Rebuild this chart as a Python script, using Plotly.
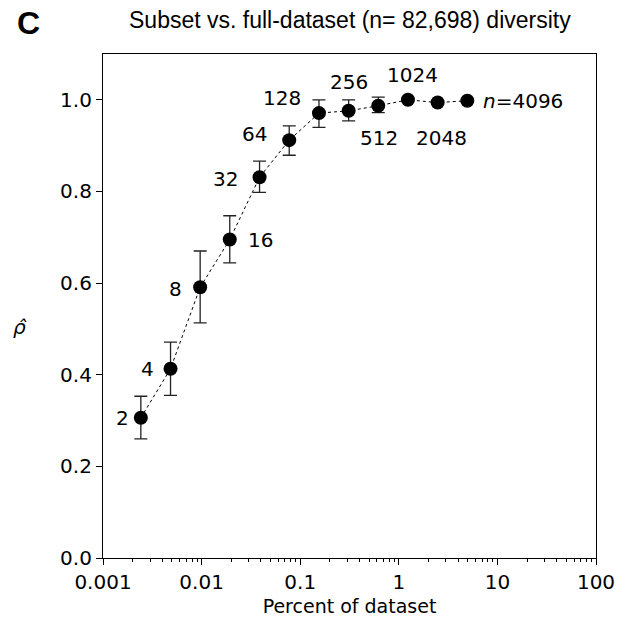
import math
import plotly.graph_objects as go

# Data
n_labels = ["2", "4", "8", "16", "32", "64", "128", "256", "512", "1024", "2048", "<i>n</i>=4096"]
percent = [0.00242, 0.00484, 0.00967, 0.0193, 0.0387, 0.0774, 0.155, 0.310, 0.619, 1.238, 2.476, 4.953]
rho = [0.306, 0.413, 0.591, 0.695, 0.831, 0.912, 0.971, 0.976, 0.987, 1.000, 0.994, 0.998]
err_up = [0.047, 0.058, 0.079, 0.052, 0.035, 0.031, 0.029, 0.024, 0.019, 0.003, 0.003, 0.003]
err_dn = [0.046, 0.058, 0.078, 0.051, 0.033, 0.033, 0.031, 0.022, 0.015, 0.003, 0.003, 0.003]
x_tickvals = [0.001, 0.01, 0.1, 1, 10, 100]
x_ticktext = ["0.001", "0.01", "0.1", "1", "10", "100"]
y_tickvals = [0.0, 0.2, 0.4, 0.6, 0.8, 1.0]

# Label placement (pixel offsets, anchors)
label_pos = [
    ("right", -10, 0), ("right", -15, 0), ("right", -16, -2), ("left", 16, 0),
    ("right", -20, -2), ("right", -20, 6), ("right", -16, 15), ("center", 0, 29),
    ("center", 1, -32), ("center", 5, 25), ("center", 4, -35), ("left", 14, 0),
]

FONT = "DejaVu Sans"

fig = go.Figure()
fig.add_trace(go.Scatter(
    x=percent, y=rho, mode="lines+markers",
    line=dict(color="black", width=1, dash="dot"),
    marker=dict(size=14, color="black"),
    error_y=dict(type="data", symmetric=False, array=err_up, arrayminus=err_dn,
                 color="#222222", thickness=1.3, width=6.5),
    showlegend=False, hoverinfo="skip",
))

minor_vals = []
for d in x_tickvals[:-1]:
    for k in range(2, 10):
        minor_vals.append(d * k)

for xv, yv, lab, (anc, dx, dy) in zip(percent, rho, n_labels, label_pos):
    fig.add_annotation(x=math.log10(xv), y=yv, xref="x", yref="y", text=lab, showarrow=False,
                       xanchor=anc, yanchor="middle", xshift=dx, yshift=dy,
                       font=dict(family=FONT, size=20, color="black"))

fig.add_annotation(x=0.5, y=1, xref="paper", yref="paper", yshift=34,
                   text="Subset vs. full-dataset (n= 82,698) diversity", showarrow=False,
                   xanchor="center", yanchor="middle",
                   font=dict(family="Liberation Sans", size=23, color="black"))
fig.add_annotation(x=0, y=1, xref="paper", yref="paper", xshift=-75, yshift=31,
                   text="<b>C</b>", showarrow=False, xanchor="center", yanchor="middle",
                   font=dict(family="Liberation Sans", size=32, color="black"))
fig.add_annotation(x=0, y=0.5, xref="paper", yref="paper", xshift=-83, yshift=-21,
                   text="<i>ρ̂</i>", showarrow=False, xanchor="center", yanchor="middle",
                   font=dict(family=FONT, size=20, color="black"))

fig.update_xaxes(
    type="log", range=[-3, 2], tickvals=x_tickvals, ticktext=x_ticktext,
    ticks="outside", ticklen=6, tickwidth=1, tickcolor="black",
    showline=True, linecolor="black", linewidth=1.2, mirror=True, showgrid=False, zeroline=False,
    minor=dict(tickvals=minor_vals, ticks="outside", ticklen=3, tickwidth=1, tickcolor="black", showgrid=False),
    tickfont=dict(family=FONT, size=20, color="black"),
    title=dict(text="Percent of dataset", font=dict(family=FONT, size=19, color="black"), standoff=6),
)
fig.update_yaxes(
    range=[0, 1.1], tickvals=y_tickvals, tickformat=".1f",
    ticks="outside", ticklen=6, tickwidth=1, tickcolor="black",
    showline=True, linecolor="black", linewidth=1.2, mirror=True, showgrid=False, zeroline=False,
    tickfont=dict(family=FONT, size=20, color="black"),
)
fig.update_layout(
    width=627, height=625, margin=dict(l=103, r=31, t=54, b=64),
    plot_bgcolor="white", paper_bgcolor="white",
)
fig.write_html("out.html")
